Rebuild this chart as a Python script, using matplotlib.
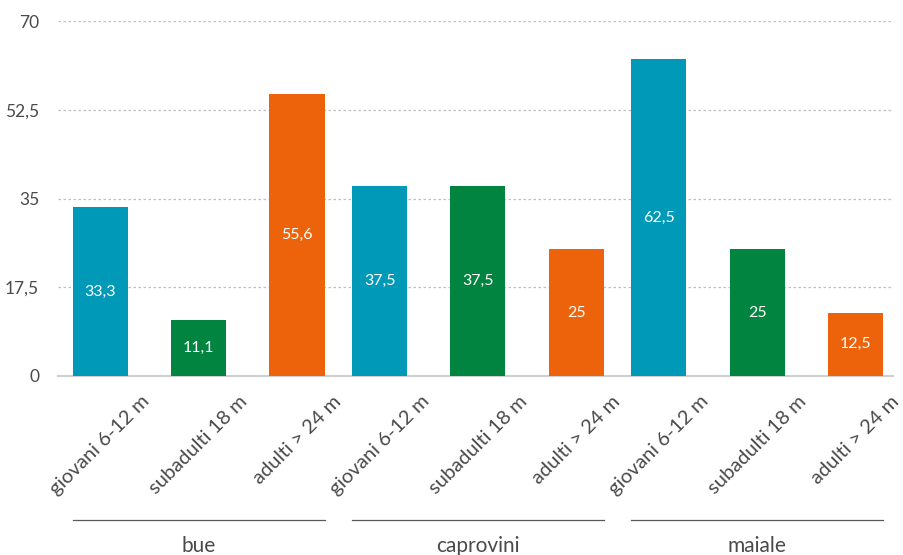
import matplotlib.pyplot as plt
from matplotlib.lines import Line2D
from matplotlib.ticker import FuncFormatter

plt.rcParams['font.family'] = ['Lato', 'DejaVu Sans']

groups = ["bue", "caprovini", "maiale"]
ages = ["giovani 6-12 m", "subadulti 18 m", "adulti > 24 m"]
bue = [33.3, 11.1, 55.6]
caprovini = [37.5, 37.5, 25]
maiale = [62.5, 25, 12.5]
colors = ["#009AB8", "#00843F", "#EC630C"]

fig = plt.figure(figsize=(9.04, 5.55), dpi=100)
ax = fig.add_axes([58 / 904, 179 / 555, 835 / 904, 355 / 555])

gap = 0.84
xs_all = []
for g, vals in enumerate([bue, caprovini, maiale]):
    xs = [g * (2 + gap) + i for i in range(3)]
    xs_all += xs
    bars = ax.bar(xs, vals, width=0.56, color=colors, zorder=3)
    for b, v in zip(bars, vals):
        txt = f"{v:g}".replace(".", ",")
        ax.text(b.get_x() + b.get_width() / 2, v / 2, txt, color="white",
                ha="center", va="center", fontsize=11.5, zorder=4)
    # linea e nome del gruppo sotto le etichette
    tr = ax.get_xaxis_transform()
    ax.add_line(Line2D([xs[0] - 0.28, xs[-1] + 0.28], [-0.406, -0.406],
                       transform=tr, color="#595959", lw=0.9, clip_on=False))
    ax.text(xs[1], -0.478, groups[g], transform=tr, ha="center", va="center",
            fontsize=15, color="#4a4a4a")

ax.set_xlim(-0.43, 8.06)
ax.set_ylim(0, 70)
ax.set_yticks([0, 17.5, 35, 52.5, 70])
ax.yaxis.set_major_formatter(FuncFormatter(lambda v, p: f"{v:g}".replace(".", ",")))
ax.set_xticks(xs_all)
ax.set_xticklabels(ages * 3, rotation=45, ha="center", va="top")

ax.grid(axis="y", color="#BFBFBF", linestyle=(0, (2, 2)), lw=0.9, zorder=0)
for s in ["top", "right", "left"]:
    ax.spines[s].set_visible(False)
ax.spines["bottom"].set_color("#D0D0D0")
ax.spines["bottom"].set_linewidth(1.5)
ax.tick_params(axis="both", length=0, colors="#4a4a4a")
ax.tick_params(axis="x", labelsize=14.5, pad=12)
ax.tick_params(axis="y", labelsize=12.5, pad=13.5)

fig.savefig("out.png", dpi=100)
